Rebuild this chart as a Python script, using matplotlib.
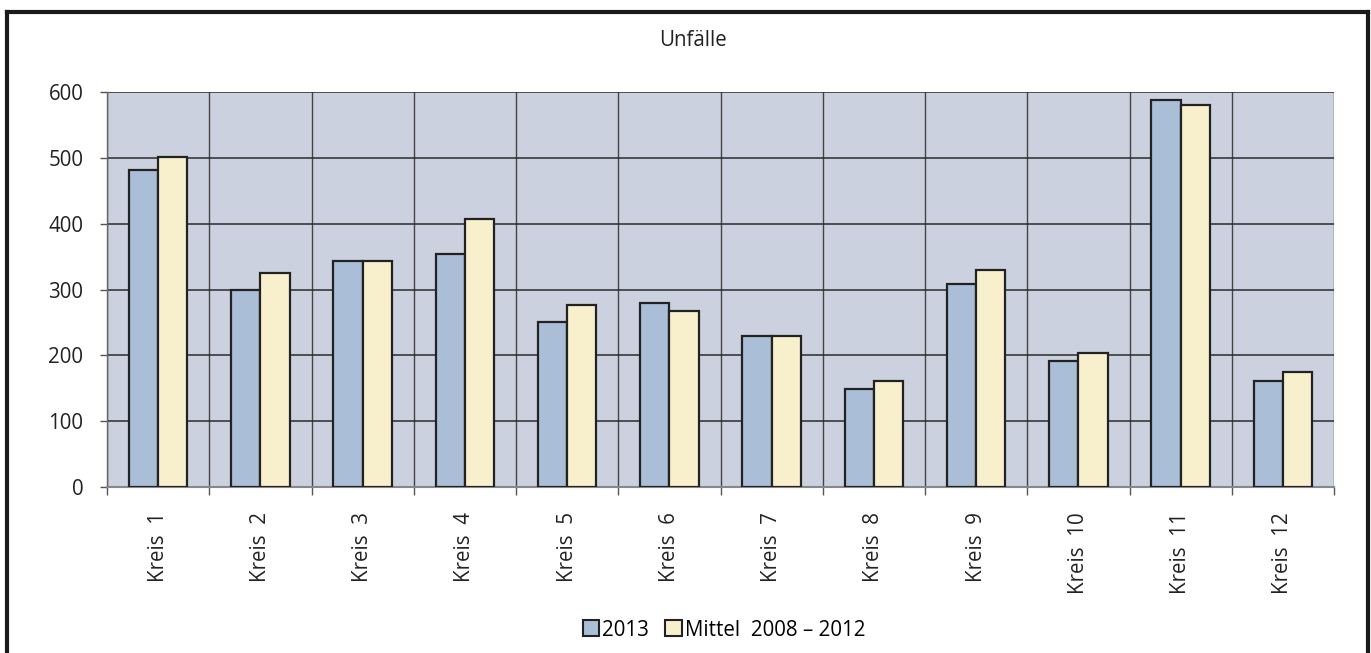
import matplotlib
matplotlib.use("Agg")
import matplotlib.pyplot as plt
from matplotlib.patches import Patch
from matplotlib.lines import Line2D
import numpy as np

plt.rcParams['font.family'] = ['Open Sans', 'DejaVu Sans']

categories = ["Kreis  1", "Kreis  2", "Kreis  3", "Kreis  4", "Kreis  5", "Kreis  6",
              "Kreis  7", "Kreis  8", "Kreis  9", "Kreis  10", "Kreis  11", "Kreis  12"]
values_2013 = [482, 300, 343, 354, 250, 280, 230, 149, 309, 192, 588, 161]
values_mittel = [501, 325, 343, 407, 276, 267, 230, 161, 330, 204, 581, 175]
series_labels = ["2013", "Mittel  2008 – 2012"]
yticks = [0, 100, 200, 300, 400, 500, 600]
title = "Unfälle"

W, H = 1371, 653
fig = plt.figure(figsize=(W / 100, H / 100), dpi=100)

ax = fig.add_axes([107 / W, 1 - 487 / H, (1334 - 107) / W, (487 - 92) / H])
ax.set_facecolor("#CBD1DF")

n = len(categories)
x = np.arange(n)
bw = 0.285
col_blue = "#AABED7"
col_yel = "#F8F0CD"
ax.bar(x - bw / 2, values_2013, width=bw, color=col_blue, edgecolor="#222222",
       linewidth=1.6, zorder=3, label=series_labels[0])
ax.bar(x + bw / 2, values_mittel, width=bw, color=col_yel, edgecolor="#222222",
       linewidth=1.6, zorder=3, label=series_labels[1])

fs = 14.8
ax.set_xlim(-0.5, n - 0.5)
ax.set_ylim(0, 600)
ax.set_yticks(yticks)
ax.set_yticklabels([str(v) for v in yticks], fontsize=fs, color="#222222")
ax.set_xticks(x)
ax.set_xticklabels(categories, rotation=90, fontsize=fs, color="#222222", va="top")
ax.set_xticks(np.arange(-0.5, n, 1.0), minor=True)
ax.tick_params(axis="x", which="major", length=0, pad=18)
ax.tick_params(axis="x", which="minor", length=6, width=1, color="#555555", direction="out")
ax.tick_params(axis="y", length=5, width=1, color="#555555", pad=12)

ax.grid(axis="y", which="major", color="#2a2a2a", linewidth=1.1, zorder=1)
ax.grid(axis="x", which="minor", color="#444444", linewidth=1.0, zorder=1)
ax.set_axisbelow(True)
for s in ["top", "right"]:
    ax.spines[s].set_visible(False)
ax.spines["left"].set_color("#666666")
ax.spines["bottom"].set_color("#888888")
ax.spines["bottom"].set_linewidth(1.5)
ax.spines["left"].set_linewidth(1.0)

fig.text(693 / W, 1 - 40 / H, title, ha="center", va="center", fontsize=fs, color="#222222")

handles = [Patch(facecolor=col_blue, edgecolor="#222222", linewidth=1.5),
           Patch(facecolor=col_yel, edgecolor="#222222", linewidth=1.5)]
fig.legend(handles, series_labels, loc="center", bbox_to_anchor=(724 / W, 1 - 630 / H),
           ncol=2, frameon=False, fontsize=fs, handlelength=0.8, handleheight=0.8,
           handletextpad=0.15, columnspacing=0.8, borderpad=0)

# outer frame
frame_kw = dict(color="#1a1a1a", linewidth=3, transform=fig.transFigure, clip_on=False)
fig.add_artist(Line2D([7 / W, 7 / W], [0, 1 - 12 / H], **frame_kw))
fig.add_artist(Line2D([1368 / W, 1368 / W], [0, 1 - 12 / H], **frame_kw))
fig.add_artist(Line2D([7 / W, 1368 / W], [1 - 12 / H, 1 - 12 / H], **frame_kw))

fig.savefig("out.png", dpi=100)
